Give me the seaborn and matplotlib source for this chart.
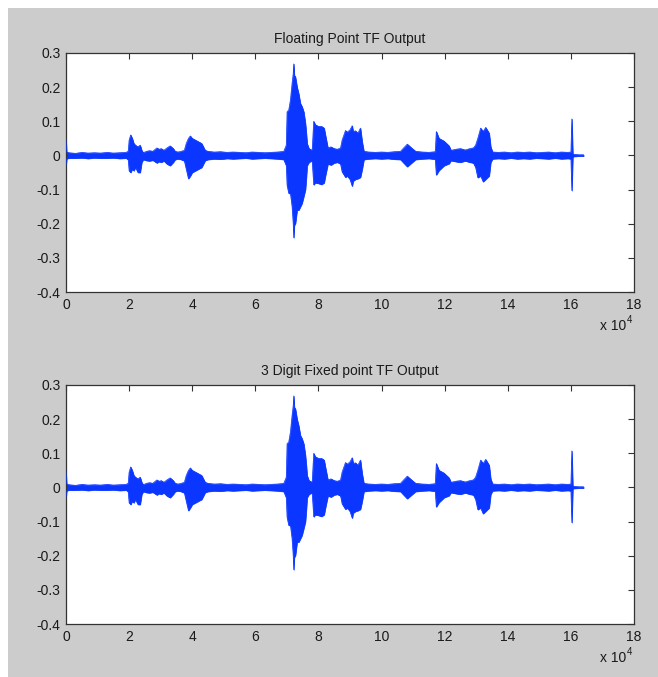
import numpy as np
import matplotlib
matplotlib.use("Agg")
import matplotlib.pyplot as plt
from matplotlib.patches import Rectangle
import seaborn as sns

# ---- data: waveform envelope (x in units of 1e4 samples) ----
env_x = [0.00, 0.02, 0.03, 0.10, 0.30, 0.50, 0.70, 0.90, 1.10, 1.30, 1.50, 1.70, 1.90,
         1.97, 2.00, 2.05, 2.10, 2.15, 2.20, 2.28, 2.35, 2.40, 2.45, 2.55, 2.65, 2.75,
         2.88, 2.95, 3.02, 3.10, 3.20, 3.30, 3.40, 3.46, 3.55, 3.65, 3.75, 3.81, 3.88,
         3.94, 4.00, 4.10, 4.20, 4.30, 4.41, 4.50, 4.70, 4.90, 5.10, 5.30, 5.50, 5.70,
         5.90, 6.10, 6.30, 6.50, 6.70, 6.90, 6.98, 7.005, 7.058, 7.111, 7.164, 7.20,
         7.217, 7.235, 7.27, 7.323, 7.376, 7.429, 7.48, 7.534, 7.587, 7.62, 7.64, 7.70,
         7.80, 7.85, 7.90, 8.00, 8.10, 8.18, 8.22, 8.30, 8.40, 8.50, 8.60, 8.70, 8.75,
         8.857, 8.91, 9.00, 9.07, 9.10, 9.175, 9.25, 9.33, 9.386, 9.44, 9.60, 9.80,
         10.00, 10.20, 10.40, 10.60, 10.70, 10.815, 10.95, 11.08, 11.30, 11.50, 11.70,
         11.735, 11.82, 11.98, 12.14, 12.20, 12.35, 12.50, 12.65, 12.80, 12.91, 12.98,
         13.05, 13.14, 13.22, 13.30, 13.41, 13.46, 13.52, 13.70, 13.90, 14.10, 14.30,
         14.50, 14.70, 14.90, 15.10, 15.30, 15.50, 15.70, 15.90, 16.00, 16.03, 16.06,
         16.10, 16.25, 16.40]
env_up = [0.045, 0.012, 0.009, 0.008, 0.006, 0.009, 0.007, 0.008, 0.007, 0.009, 0.007, 0.008, 0.009,
          0.012, 0.045, 0.060, 0.050, 0.035, 0.030, 0.025, 0.030, 0.015, 0.008, 0.012, 0.014, 0.012,
          0.022, 0.018, 0.020, 0.015, 0.022, 0.028, 0.020, 0.012, 0.010, 0.012, 0.015, 0.035, 0.050,
          0.057, 0.050, 0.045, 0.040, 0.035, 0.015, 0.012, 0.010, 0.011, 0.009, 0.010, 0.009, 0.008,
          0.010, 0.009, 0.008, 0.009, 0.010, 0.012, 0.030, 0.128, 0.133, 0.162, 0.211, 0.240,
          0.268, 0.235, 0.230, 0.200, 0.180, 0.152, 0.143, 0.128, 0.094, 0.060, 0.035, 0.020,
          0.015, 0.100, 0.090, 0.085, 0.085, 0.080, 0.060, 0.022, 0.025, 0.020, 0.018, 0.022, 0.045,
          0.073, 0.068, 0.075, 0.087, 0.070, 0.072, 0.065, 0.080, 0.040, 0.012, 0.010, 0.009,
          0.010, 0.009, 0.011, 0.012, 0.022, 0.033, 0.022, 0.012, 0.010, 0.009, 0.011,
          0.070, 0.050, 0.042, 0.028, 0.015, 0.018, 0.020, 0.016, 0.020, 0.022, 0.030,
          0.050, 0.080, 0.070, 0.082, 0.065, 0.025, 0.010, 0.009, 0.010, 0.008, 0.010,
          0.009, 0.010, 0.008, 0.009, 0.010, 0.008, 0.010, 0.009, 0.010, 0.107, 0.004,
          0.003, 0.002, 0.002]
env_lo = [-0.030, -0.012, -0.009, -0.008, -0.008, -0.007, -0.009, -0.007, -0.008, -0.008, -0.007, -0.009, -0.008,
          -0.012, -0.045, -0.050, -0.040, -0.045, -0.035, -0.050, -0.050, -0.020, -0.012, -0.015, -0.016, -0.014,
          -0.022, -0.018, -0.020, -0.016, -0.025, -0.030, -0.020, -0.012, -0.010, -0.012, -0.016, -0.040, -0.068,
          -0.060, -0.050, -0.045, -0.040, -0.035, -0.015, -0.012, -0.010, -0.011, -0.009, -0.010, -0.009, -0.008,
          -0.010, -0.009, -0.008, -0.009, -0.010, -0.012, -0.030, -0.087, -0.111, -0.111, -0.150, -0.200,
          -0.241, -0.205, -0.199, -0.160, -0.160, -0.150, -0.140, -0.120, -0.100, -0.060, -0.030, -0.020,
          -0.015, -0.086, -0.080, -0.082, -0.085, -0.080, -0.060, -0.025, -0.028, -0.022, -0.020, -0.025, -0.048,
          -0.064, -0.060, -0.070, -0.090, -0.075, -0.070, -0.068, -0.064, -0.040, -0.012, -0.010, -0.009,
          -0.010, -0.009, -0.011, -0.012, -0.022, -0.033, -0.022, -0.012, -0.010, -0.009, -0.011,
          -0.057, -0.044, -0.030, -0.024, -0.015, -0.018, -0.020, -0.016, -0.020, -0.022, -0.035,
          -0.065, -0.060, -0.077, -0.070, -0.060, -0.020, -0.010, -0.009, -0.010, -0.008, -0.010,
          -0.009, -0.010, -0.008, -0.009, -0.010, -0.008, -0.010, -0.009, -0.010, -0.103, -0.004,
          -0.003, -0.002, -0.002]

titles = ["Floating Point TF Output", "3 Digit Fixed point TF Output"]
x_ticks = [0, 2, 4, 6, 8, 10, 12, 14, 16, 18]
y_ticks = [-0.4, -0.3, -0.2, -0.1, 0.0, 0.1, 0.2, 0.3]
y_labels = ["-0.4", "-0.3", "-0.2", "-0.1", "0", "0.1", "0.2", "0.3"]

sns.set_theme(style="white")
plt.rcParams['font.family'] = ['Liberation Sans Narrow', 'Liberation Sans', 'DejaVu Sans']

W, H = 658, 677
fig = plt.figure(figsize=(W / 100, H / 100), dpi=100, facecolor="white")
fig.patches.append(Rectangle((8 / W, 0), 1 - 8 / W, 1 - 8 / H, transform=fig.transFigure,
                             facecolor="#cccccc", edgecolor="none", zorder=-10))

line_color = "#0a36ff"
fs = 10
axes_px = [(66, 53, 634, 292), (66, 385, 634, 624)]
for i, (l, t, r, b) in enumerate(axes_px):
    ax = fig.add_axes([l / W, 1 - b / H, (r - l) / W, (b - t) / H])
    ax.set_facecolor("white")
    ax.fill_between(env_x, env_lo, env_up, color=line_color, linewidth=0.5,
                    edgecolor=line_color, zorder=2)
    sns.lineplot(x=env_x, y=env_up, ax=ax, color=line_color, linewidth=0.5,
                 estimator=None, sort=False, zorder=3)
    sns.lineplot(x=env_x, y=env_lo, ax=ax, color=line_color, linewidth=0.5,
                 estimator=None, sort=False, zorder=3)
    ax.set_xlim(0, 18)
    ax.set_ylim(-0.4, 0.3)
    ax.set_xticks(x_ticks)
    ax.set_xticklabels([str(v) for v in x_ticks])
    ax.set_yticks(y_ticks)
    ax.set_yticklabels(y_labels)
    ax.tick_params(direction="in", length=4, width=0.8, color="#333333",
                   top=True, right=True, labelsize=fs, labelcolor="#1a1a1a")
    ax.tick_params(axis="y", pad=4)
    ax.tick_params(axis="x", pad=4)
    for s in ax.spines.values():
        s.set_color("#333333")
        s.set_linewidth(0.9)
    ax.set_title(titles[i], fontsize=fs, color="#1a1a1a", pad=7)
    # MATLAB-style exponent label
    yb = b + 34
    fig.text(626 / W, 1 - yb / H, "x 10", ha="right", va="center", fontsize=fs, color="#1a1a1a")
    fig.text(627 / W, 1 - (yb - 6) / H, "4", ha="left", va="center", fontsize=7, color="#1a1a1a")

fig.savefig("out.png", dpi=100, facecolor=fig.get_facecolor())
